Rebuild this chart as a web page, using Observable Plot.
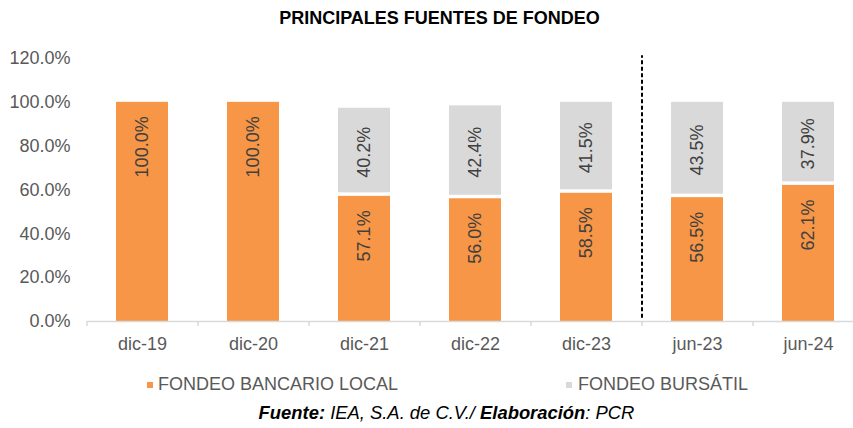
<!DOCTYPE html>
<html><head><meta charset="utf-8">
<script src="https://cdn.jsdelivr.net/npm/d3@7"></script>
<script src="https://cdn.jsdelivr.net/npm/@observablehq/plot@0.6"></script>
<style>
body{margin:0;background:#fff;font-family:"Liberation Sans",Arial,sans-serif;}
#wrap{position:relative;width:853px;height:428px;overflow:hidden;background:#fff;}
#title{position:absolute;top:8px;left:13px;width:853px;text-align:center;font-weight:bold;font-size:18px;color:#000;line-height:20px;}
#chart{position:absolute;top:38px;left:0;}
.leg{position:absolute;top:373px;font-size:18px;color:#595959;line-height:22px;white-space:nowrap;}
.sw{position:absolute;width:6px;height:6px;}
#caption{position:absolute;top:402px;left:0;width:893px;text-align:center;font-size:18.4px;font-style:italic;color:#000;line-height:22px;}
</style></head>
<body>
<div id="wrap">
  <div id="title">PRINCIPALES FUENTES DE FONDEO</div>
  <div id="chart"></div>
  <div class="sw" id="sw1" style="left:147px;top:382px;"></div>
  <div class="leg" id="leg1" style="left:158px;"></div>
  <div class="sw" id="sw2" style="left:566px;top:382px;"></div>
  <div class="leg" id="leg2" style="left:578px;"></div>
  <div id="caption"><b>Fuente:</b> IEA, S.A. de C.V./ <b>Elaboración</b>: PCR</div>
</div>
<script>
const categories = ["dic-19","dic-20","dic-21","dic-22","dic-23","jun-23","jun-24"];
const bancario = [100.0, 100.0, 57.1, 56.0, 58.5, 56.5, 62.1];
const bursatil = [null, null, 40.2, 42.4, 41.5, 43.5, 37.9];
const seriesNames = ["FONDEO BANCARIO LOCAL", "FONDEO BURSÁTIL"];
const seriesColors = ["#F79646", "#D9D9D9"];
const yTicks = [0, 20, 40, 60, 80, 100, 120];
const separator = "jun-23";

const rows = categories.map((c, i) => ({cat: c, b: bancario[i], s: bursatil[i]}));
const grayRows = rows.filter(d => d.s != null);

const xRange = [87, 864];
const step = (xRange[1] - xRange[0]) / categories.length;
const fmt = v => v.toFixed(1) + "%";

const chart = Plot.plot({
  width: 853,
  height: 330,
  marginLeft: 87,
  marginRight: 0,
  marginTop: 20,
  marginBottom: 47,
  style: {fontFamily: "'Liberation Sans', Arial, sans-serif", fontSize: "18px", background: "transparent", overflow: "visible"},
  x: {type: "band", domain: categories, range: xRange, paddingInner: 0.53, paddingOuter: 0.265, label: null},
  y: {domain: [0, 120], range: [283, 20], label: null},
  marks: [
    Plot.barY(rows, {x: "cat", y1: 0, y2: "b", fill: seriesColors[0]}),
    Plot.barY(grayRows, {x: "cat", y1: "b", y2: d => d.b + d.s, fill: seriesColors[1], insetBottom: 3.5}),
    Plot.ruleY([0], {stroke: "#D9D9D9", strokeWidth: 1.5}),
    Plot.ruleX(categories, {x: d => d, dx: -step / 2, y1: 0, y2: -2.3, stroke: "#D9D9D9", strokeWidth: 1.5}),
    Plot.ruleX([separator], {x: d => d, dx: -step / 2, y1: 1.5, y2: 121.2, stroke: "#000", strokeWidth: 2, strokeDasharray: "4,2.5"}),
    Plot.text(rows, {x: "cat", y: "b", text: d => fmt(d.b), rotate: -90, textAnchor: "end", dy: 14, fill: "#404040", fontSize: 18}),
    Plot.text(grayRows, {x: "cat", y: d => d.b + d.s / 2, text: d => fmt(d.s), rotate: -90, textAnchor: "middle", fill: "#404040", fontSize: 18}),
    Plot.axisY(yTicks, {tickSize: 0, tickPadding: 17, tickFormat: fmt, color: "#595959", fontSize: 18, label: null}),
    Plot.axisX({tickSize: 0, tickPadding: 16, color: "#595959", fontSize: 18, label: null})
  ]
});
document.getElementById("chart").appendChild(chart);
document.getElementById("sw1").style.background = seriesColors[0];
document.getElementById("sw2").style.background = seriesColors[1];
document.getElementById("leg1").textContent = seriesNames[0];
document.getElementById("leg2").textContent = seriesNames[1];
</script>
</body></html>
